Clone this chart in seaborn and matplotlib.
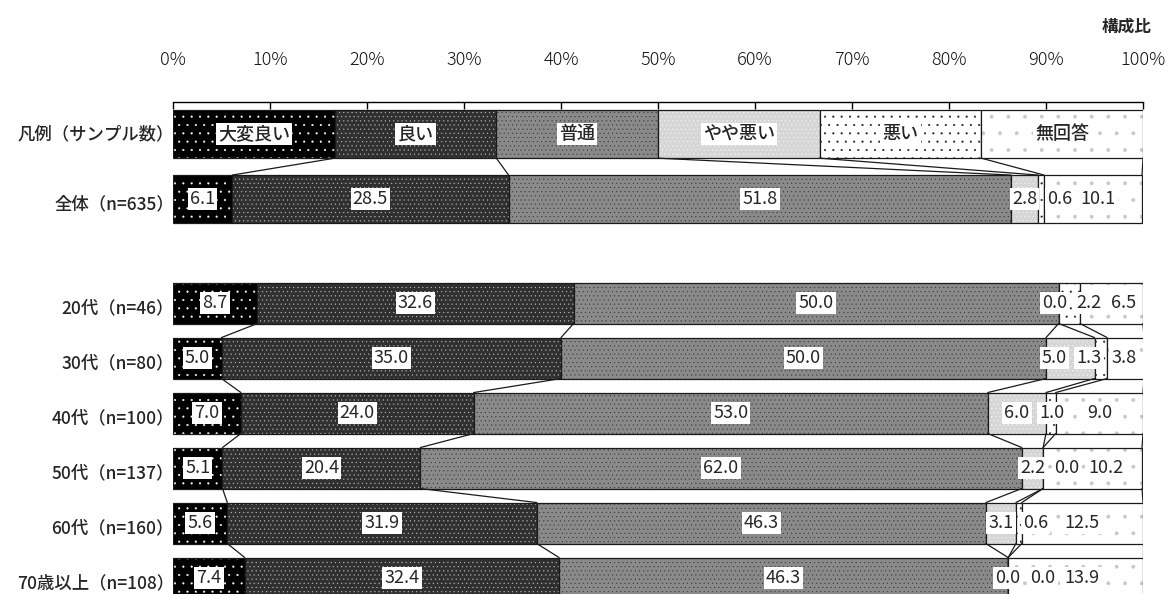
import numpy as np
import pandas as pd
import seaborn as sns
import matplotlib.pyplot as plt


categories = ["大変良い", "良い", "普通", "やや悪い", "悪い", "無回答"]
groups = ["全体", "20代", "30代", "40代", "50代", "60代", "70歳以上"]
sample_n = [635, 46, 80, 100, 137, 160, 108]

very_good = [6.1, 8.7, 5.0, 7.0, 5.1, 5.6, 7.4]
good = [28.5, 32.6, 35.0, 24.0, 20.4, 31.9, 32.4]
normal = [51.8, 50.0, 50.0, 53.0, 62.0, 46.3, 46.3]
slightly_bad = [2.8, 0.0, 5.0, 6.0, 2.2, 3.1, 0.0]
bad = [0.6, 2.2, 1.3, 1.0, 0.0, 0.6, 0.0]
no_answer = [10.1, 6.5, 3.8, 9.0, 10.2, 12.5, 13.9]

df = pd.DataFrame(
    [very_good, good, normal, slightly_bad, bad, no_answer], index=categories, columns=groups
).T

# layout: row centres / heights in "row" units (top row = legend)
legend_y = -3.07
row_y = [-1.89, 0, 1, 2, 3, 4, 5]
row_h = [0.873, 0.745, 0.745, 0.745, 0.745, 0.745, 0.745]
legend_h = 0.873

# fill colour, hatch, hatch colour per category
styles = [
    ("#000000", "..", "white"),
    ("#303030", "....", "#bdbdbd"),
    ("#8a8a8a", "....", "#3a3a3a"),
    ("#d6d6d6", "....", "#f6f6f6"),
    ("#ffffff", "..", "#222222"),
    ("#ffffff", ".", "#c8c8c8"),
]

sns.set_theme(style="white")
plt.rcParams["font.family"] = ["Noto Sans CJK JP", "DejaVu Sans"]
plt.rcParams["hatch.linewidth"] = 0.3

fig = plt.figure(figsize=(11.68, 5.94), dpi=100)
ax = fig.add_axes([173 / 1168, 0, 970 / 1168, 492 / 594])


def draw_row(y, h, vals):
    lefts = np.concatenate([[0], np.cumsum(vals)[:-1]])
    for v, l, (fc, hatch, hc) in zip(vals, lefts, styles):
        ax.barh(y, v, left=l, height=h, color=fc, linewidth=0)
        ax.barh(y, v, left=l, height=h, color="none", edgecolor=hc, linewidth=0, hatch=hatch)
        ax.barh(y, v, left=l, height=h, color="none", edgecolor="#1a1a1a", linewidth=0.9)
    return lefts


def label_x(vals, lefts):
    xs = [l + v / 2 for v, l in zip(vals, lefts)]
    widths = [(len(f"{v:.1f}") * 8.6 + 5) / 9.7 for v in vals]
    for i in range(1, len(xs)):
        gap = (widths[i] + widths[i - 1]) / 2 + 0.4
        if xs[i] - xs[i - 1] < gap:
            xs[i] = xs[i - 1] + gap
    xs[-1] = min(xs[-1], 99.6 - widths[-1] / 2)
    for i in range(len(xs) - 2, -1, -1):
        gap = (widths[i] + widths[i + 1]) / 2 + 0.4
        if xs[i + 1] - xs[i] < gap:
            xs[i] = xs[i + 1] - gap
    return xs


box = dict(boxstyle="square,pad=0.12", fc="white", ec="none")

# legend row
legend_vals = [100 / len(categories)] * len(categories)
legend_lefts = draw_row(legend_y, legend_h, legend_vals)
for cat, l, v in zip(categories, legend_lefts, legend_vals):
    ax.text(l + v / 2, legend_y, cat, ha="center", va="center", fontsize=13,
            fontweight="medium", bbox=box)

# data rows
for g, y, h in zip(groups, row_y, row_h):
    vals = df.loc[g].values
    lefts = draw_row(y, h, vals)
    for x, v in zip(label_x(vals, lefts), vals):
        ax.text(x, y, f"{v:.1f}", ha="center", va="center", fontsize=13, bbox=box)

# connector lines between adjacent rows
rows = [(legend_y, legend_h, np.cumsum(legend_vals))]
rows += [(y, h, np.cumsum(df.loc[g].values)) for g, y, h in zip(groups, row_y, row_h)]
pairs = [(0, 1)] + [(i, i + 1) for i in range(2, len(rows) - 1)]
for a, b in pairs:
    ya, ha_, ca = rows[a]
    yb, hb, cb = rows[b]
    for xa, xb in zip(ca, cb):
        ax.plot([xa, xb], [ya + ha_ / 2, yb - hb / 2], color="#1a1a1a", linewidth=0.9)

# left labels
ax.text(0.001, legend_y, "凡例（サンプル数）", transform=ax.get_yaxis_transform(),
        ha="right", va="center", fontsize=12.5, fontweight="medium")
for g, n, y in zip(groups, sample_n, row_y):
    ax.text(0.001, y + 0.1, f"{g}（n={n}）", transform=ax.get_yaxis_transform(),
            ha="right", va="center", fontsize=12.5, fontweight="medium")

ax.set_xlim(0, 100)
ax.set_ylim(5.29, -3.655)
ax.xaxis.tick_top()
ax.set_xticks(range(0, 101, 10))
ax.set_xticklabels([f"{t}%" for t in range(0, 101, 10)], fontsize=13, fontweight="light")
ax.tick_params(axis="x", direction="in", length=5, width=1, color="black", pad=24, top=True,
               labelcolor="#111111")
ax.set_yticks([])
for side in ["left", "right", "bottom"]:
    ax.spines[side].set_visible(False)
ax.spines["top"].set_color("black")
ax.spines["top"].set_linewidth(1)
ax.grid(False)

fig.text(1152 / 1168, 1 - 27 / 594, "構成比", ha="right", va="center", fontsize=12, fontweight="bold")

fig.savefig("out.png", dpi=100)
